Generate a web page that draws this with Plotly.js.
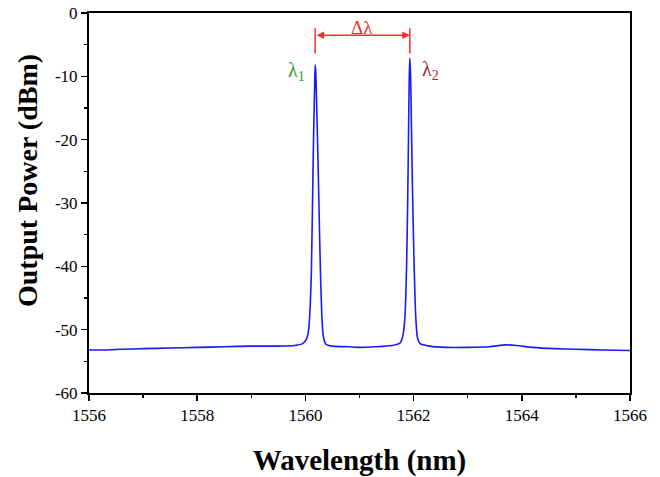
<!DOCTYPE html>
<html>
<head>
<meta charset="utf-8">
<script src="https://cdn.plot.ly/plotly-3.0.1.min.js"></script>
<style>html,body{margin:0;padding:0;background:#fff;}#chart{width:660px;height:477px;}</style>
</head>
<body>
<div id="chart"></div>
<script>
// Dual-wavelength laser output spectrum
const wavelength = [
  1556.0, 1556.3, 1556.6, 1557.0, 1557.5, 1558.0, 1558.5, 1559.0, 1559.5, 1559.8,
  1559.95, 1560.02, 1560.06, 1560.09, 1560.11, 1560.13, 1560.15, 1560.17, 1560.18, 1560.19,
  1560.21, 1560.24, 1560.27, 1560.30, 1560.33, 1560.38, 1560.5, 1560.8, 1561.0, 1561.3,
  1561.6, 1561.75, 1561.80, 1561.84, 1561.87, 1561.89, 1561.905, 1561.92, 1561.93, 1561.945,
  1561.96, 1561.98, 1562.01, 1562.04, 1562.07, 1562.12, 1562.3, 1562.6, 1563.0, 1563.4,
  1563.7, 1563.9, 1564.2, 1564.6, 1565.0, 1565.5, 1566.0
];
const power = [
  -53.2, -53.2, -53.1, -53.0, -52.9, -52.8, -52.7, -52.6, -52.6, -52.5,
  -52.2, -51.5, -50.0, -46.0, -41.0, -31.0, -20.0, -12.0, -8.2, -9.0,
  -15.0, -26.0, -38.0, -47.0, -51.0, -52.3, -52.6, -52.7, -52.8, -52.7,
  -52.5, -52.1, -51.0, -48.0, -40.0, -30.0, -20.0, -10.0, -7.1, -10.0,
  -18.0, -28.0, -40.0, -48.0, -51.2, -52.2, -52.6, -52.8, -52.8, -52.7,
  -52.4, -52.5, -52.8, -53.0, -53.1, -53.2, -53.3
];
// Lasing lines
const peakWavelength = [1560.18, 1561.93];
const peakLabels = ['λ<sub>1</sub>', 'λ<sub>2</sub>'];
const peakLabelColors = ['#2e9a2e', '#a02828'];
const xTicks = [1556, 1558, 1560, 1562, 1564, 1566];
const yTicks = [0, -10, -20, -30, -40, -50, -60];

const serif = "'Liberation Serif', 'Times New Roman', serif";
const red = '#ff2a2a';

const trace = {
  x: wavelength, y: power, type: 'scatter', mode: 'lines',
  line: {color: '#1a1aff', width: 1.6, shape: 'spline', smoothing: 0.6},
  hoverinfo: 'skip'
};

const axisCommon = {
  showgrid: false, zeroline: false, showline: true, linecolor: '#000', linewidth: 2,
  mirror: true, ticks: 'outside', ticklen: 6, tickwidth: 1.5, tickcolor: '#000',
  tickfont: {family: serif, size: 17, color: '#000'}
};

const shapes = [
  {type: 'line', xref: 'x', yref: 'y', x0: peakWavelength[0], x1: peakWavelength[0], y0: -2.4, y1: -6.4,
   line: {color: red, width: 1.5}},
  {type: 'line', xref: 'x', yref: 'y', x0: peakWavelength[1], x1: peakWavelength[1], y0: -2.4, y1: -6.4,
   line: {color: red, width: 1.5}}
];

const midX = (peakWavelength[0] + peakWavelength[1]) / 2;
const annotations = [
  {x: peakWavelength[1], y: -3.5, ax: peakWavelength[0], ay: -3.5, xref: 'x', yref: 'y', axref: 'x', ayref: 'y',
   text: '', showarrow: true, arrowhead: 2, arrowside: 'end+start', arrowsize: 1, arrowwidth: 1.5, arrowcolor: red},
  {x: midX, y: -2.3, xref: 'x', yref: 'y', text: 'Δλ', showarrow: false,
   font: {family: serif, size: 19, color: red}},
  {x: 1559.84, y: -9.2, xref: 'x', yref: 'y', text: peakLabels[0], showarrow: false,
   font: {family: serif, size: 20, color: peakLabelColors[0]}},
  {x: 1562.32, y: -9.0, xref: 'x', yref: 'y', text: peakLabels[1], showarrow: false,
   font: {family: serif, size: 20, color: peakLabelColors[1]}},
  // y-axis title, placed slightly above the plot's vertical centre
  {x: -0.115, y: 0.56, xref: 'paper', yref: 'paper', xanchor: 'center', yanchor: 'middle',
   text: 'Output Power (dBm)', textangle: -90, showarrow: false,
   font: {family: serif, size: 28, color: '#000', weight: 'bold'}}
];

const layout = {
  width: 660, height: 477,
  margin: {l: 89, r: 30, t: 13, b: 84},
  paper_bgcolor: '#fff', plot_bgcolor: '#fff',
  showlegend: false,
  xaxis: Object.assign({}, axisCommon, {
    range: [1556, 1566], tickvals: xTicks, ticktext: xTicks.map(String),
    minor: {ticks: 'outside', ticklen: 3, tickwidth: 1.5, tickcolor: '#000', dtick: 1},
    title: {text: 'Wavelength (nm)', standoff: 26,
            font: {family: serif, size: 29, color: '#000', weight: 'bold'}}
  }),
  yaxis: Object.assign({}, axisCommon, {
    range: [-60, 0], tickvals: yTicks, ticktext: yTicks.map(String),
    minor: {ticks: 'outside', ticklen: 3, tickwidth: 1.5, tickcolor: '#000', dtick: 5}
  }),
  shapes: shapes,
  annotations: annotations
};

Plotly.newPlot('chart', [trace], layout, {displayModeBar: false, staticPlot: true});
</script>
</body>
</html>
